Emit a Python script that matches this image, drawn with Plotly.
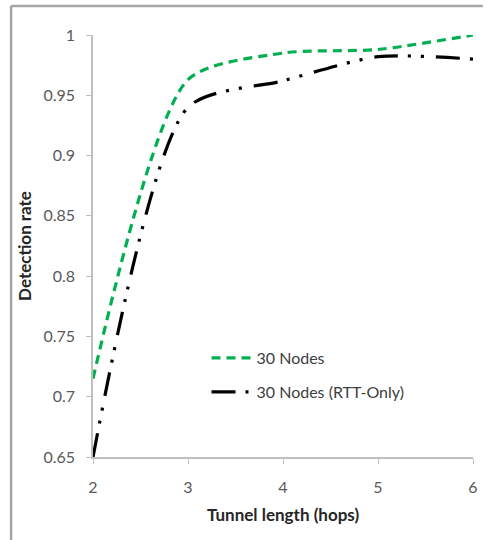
import plotly.graph_objects as go

hops = [2, 3, 4, 5, 6]
rate_30 = [0.715, 0.963, 0.985, 0.988, 1.0]
rate_30_rtt = [0.65, 0.94, 0.962, 0.982, 0.980]
names = ["30 Nodes", "30 Nodes (RTT-Only)"]
y_ticks = [0.65, 0.7, 0.75, 0.8, 0.85, 0.9, 0.95, 1]
y_labels = ["0.65", "0.7", "0.75", "0.8", "0.85", "0.9", "0.95", "1"]
x_ticks = [2, 3, 4, 5, 6]

W, H = 488, 540
ml, mr, mt, mb = 93, 10, 35, 83

fig = go.Figure()
fig.add_trace(go.Scatter(
    x=hops, y=rate_30, mode="lines", name=names[0],
    line=dict(color="#00b050", width=3.2, dash="9px,6px", shape="spline", smoothing=0.7),
    legend="legend"))
fig.add_trace(go.Scatter(
    x=hops, y=rate_30_rtt, mode="lines", name=names[1],
    line=dict(color="#000000", width=3.2, dash="24px,10px,3px,10px,3px,12px", shape="spline", smoothing=0.7),
    legend="legend2"))

pw = W - ml - mr
ph = H - mt - mb
def px2paper_x(px):
    return (px - ml) / pw
def px2paper_y(py):
    return (H - mb - py) / ph

FONT = "Lato, Carlito, sans-serif"
tickfont = dict(family=FONT, size=16, color="#595959")
legfont = dict(family=FONT, size=16, color="#404040")
titlefont = dict(family=FONT, size=17, color="#262626")

fig.update_layout(
    width=W, height=H,
    margin=dict(l=ml, r=mr, t=mt, b=mb),
    paper_bgcolor="white", plot_bgcolor="white",
    xaxis=dict(range=[2, 6], tickvals=x_ticks, showgrid=False, zeroline=False,
               showline=True, linecolor="#bfbfbf", linewidth=1.5,
               ticks="outside", ticklen=5, tickcolor="#bfbfbf", tickfont=tickfont,
               ticklabelstandoff=10,
               title=dict(text="<b>Tunnel length (hops)</b>", font=titlefont, standoff=14)),
    yaxis=dict(range=[0.65, 1], tickvals=y_ticks, ticktext=y_labels, showgrid=False, zeroline=False,
               showline=True, linecolor="#bfbfbf", linewidth=1.5,
               ticks="outside", ticklen=5, tickcolor="#bfbfbf", tickfont=tickfont,
               ticklabelstandoff=8,
               title=dict(text="<b>Detection rate</b>", font=titlefont, standoff=7)),
    legend=dict(x=px2paper_x(208), y=px2paper_y(358), yanchor="middle", xanchor="left",
                bgcolor="rgba(0,0,0,0)", font=legfont, itemwidth=40),
    legend2=dict(x=px2paper_x(208), y=px2paper_y(392), yanchor="middle", xanchor="left",
                 bgcolor="rgba(0,0,0,0)", font=legfont, itemwidth=40),
    showlegend=True,
    shapes=[
        dict(type="line", xref="paper", yref="paper",
             x0=px2paper_x(10), x1=px2paper_x(10), y0=px2paper_y(6), y1=px2paper_y(540),
             line=dict(color="#a6a6a6", width=2.5)),
        dict(type="line", xref="paper", yref="paper",
             x0=px2paper_x(10), x1=px2paper_x(488), y0=px2paper_y(6), y1=px2paper_y(6),
             line=dict(color="#a6a6a6", width=2.5)),
    ],
)

fig.write_html("out.html")
